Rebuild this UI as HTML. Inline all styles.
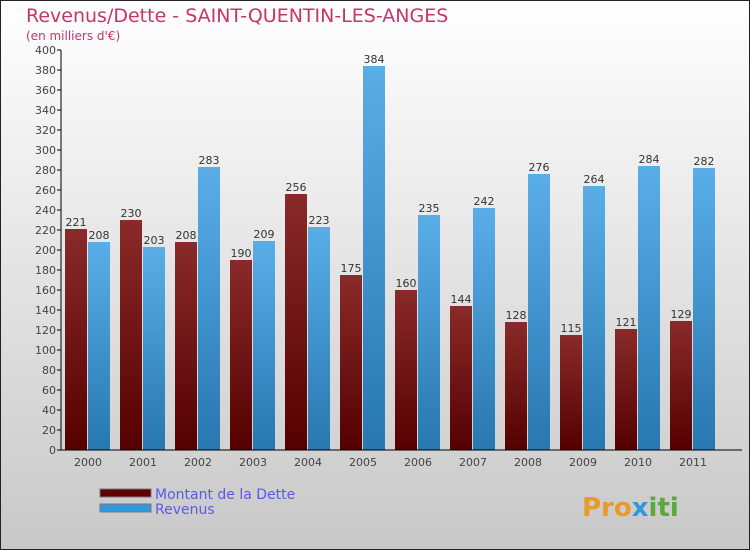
<!DOCTYPE html>
<html><head><meta charset="utf-8"><style>
body{margin:0}
svg{display:block;font-family:"DejaVu Sans","Liberation Sans",sans-serif}
</style></head><body>
<svg id="c" width="750" height="550" viewBox="0 0 750 550">
<defs>
<linearGradient id="bg" x1="0" y1="0" x2="0" y2="1"><stop offset="0" stop-color="#ffffff"/><stop offset="1" stop-color="#c8c8c8"/></linearGradient>
<linearGradient id="gd" x1="0" y1="0" x2="0" y2="1"><stop offset="0" stop-color="#8a2a2a"/><stop offset="1" stop-color="#550000"/></linearGradient>
<linearGradient id="gr" x1="0" y1="0" x2="0" y2="1"><stop offset="0" stop-color="#5aaee8"/><stop offset="1" stop-color="#2777b0"/></linearGradient>
</defs>
<rect x="0.5" y="0.5" width="749" height="549" fill="url(#bg)" stroke="#222"/>
<text x="26" y="22" font-size="19" fill="#c8336a">Revenus/Dette - SAINT-QUENTIN-LES-ANGES</text>
<text x="26" y="40" font-size="12" fill="#c8336a">(en milliers d'€)</text>
<g id="plot"></g>
<g>
<rect x="100" y="489" width="51" height="8" fill="#600000" stroke="#777"/>
<text x="155" y="499" font-size="14" fill="#5a5ae6">Montant de la Dette</text>
<rect x="100" y="504" width="51" height="8" fill="#3399dd" stroke="#777"/>
<text x="155" y="514" font-size="14" fill="#5a5ae6">Revenus</text>
</g>
<text x="582" y="516" font-size="26" font-weight="bold" fill="#e89a2a">Pro<tspan fill="#3399dd">x</tspan><tspan fill="#5aaa3a">iti</tspan></text>
</svg>
<script>
const years=["2000","2001","2002","2003","2004","2005","2006","2007","2008","2009","2010","2011"];
const debt=[221,230,208,190,256,175,160,144,128,115,121,129];
const revenue=[208,203,283,209,223,384,235,242,276,264,284,282];
const yTicks=[0,20,40,60,80,100,120,140,160,180,200,220,240,260,280,300,320,340,360,380,400];
const NS="http://www.w3.org/2000/svg";
const g=document.getElementById('plot');
const y0=450,x0=61,scale=1;
const yPos=v=>y0-v*scale;
const groupX=i=>65+55*i;
function mk(t,a,p){const e=document.createElementNS(NS,t);for(const k in a)e.setAttribute(k,a[k]);(p||g).appendChild(e);return e;}
yTicks.forEach(t=>{
 const tk=mk('line',{x1:x0-4,x2:x0,y1:yPos(t),y2:yPos(t),stroke:'#000'});
 
 
 const tx=mk('text',{x:x0-5,y:yPos(t)+4,'font-size':11,'text-anchor':'end',fill:'#444'});
 tx.textContent=t;
 
 
});
years.forEach((yr,i)=>{
 const bx=groupX(i);
 const d=mk('rect',{x:bx,y:yPos(debt[i]),width:22,height:debt[i]*scale,fill:'url(#gd)'});
 
 
 const r=mk('rect',{x:bx+23,y:yPos(revenue[i]),width:22,height:revenue[i]*scale,fill:'url(#gr)'});
 
 
 const dl=mk('text',{x:bx+11,y:yPos(debt[i])-3,'font-size':11,'text-anchor':'middle',fill:'#333'});
 dl.textContent=debt[i];
 
 
 const rl=mk('text',{x:bx+34,y:yPos(revenue[i])-3,'font-size':11,'text-anchor':'middle',fill:'#333'});
 rl.textContent=revenue[i];
 
 
 const xl=mk('text',{x:bx+23,y:466,'font-size':11,'text-anchor':'middle',fill:'#444'});
 xl.textContent=yr;
 
 
});
const ya=mk('line',{x1:x0,x2:x0,y1:50,y2:y0,stroke:'#000'});


const xa=mk('line',{x1:x0,x2:742,y1:y0,y2:y0,stroke:'#000'});


</script>
</body></html>
